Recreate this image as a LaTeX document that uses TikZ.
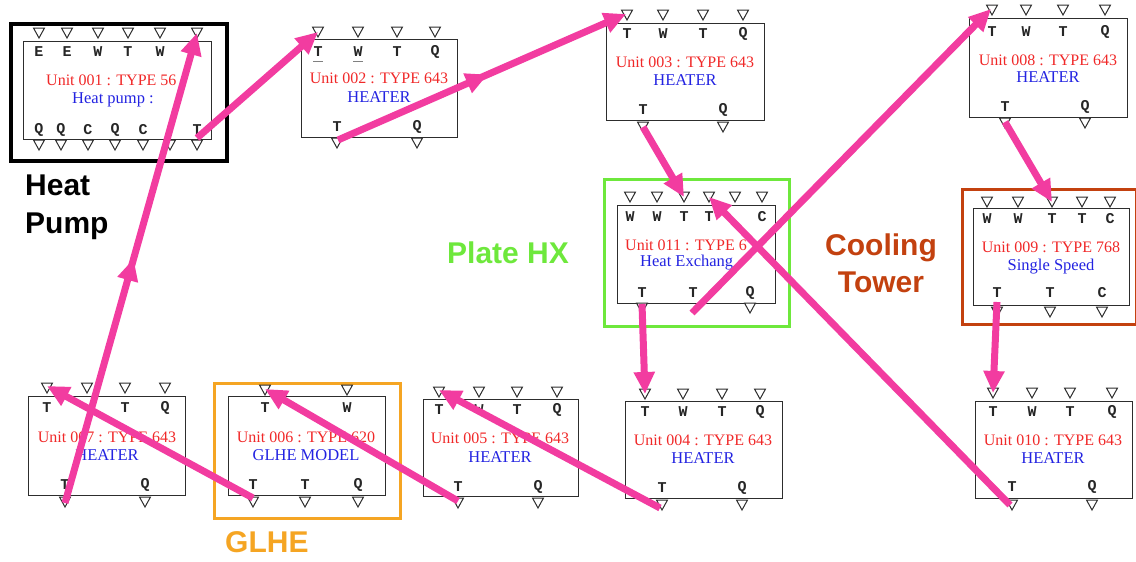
\documentclass[tikz,border=0pt]{standalone}
\usepackage{fontspec}
\setmainfont{Liberation Serif}
\newfontfamily\lsans{Liberation Sans}
\newfontfamily\lmono{Liberation Mono}
\usetikzlibrary{arrows.meta,decorations.markings}
\definecolor{hp}{RGB}{242,60,160}
\definecolor{ured}{RGB}{240,40,40}
\definecolor{ublue}{RGB}{35,35,225}
\definecolor{hxgreen}{RGB}{110,232,60}
\definecolor{glorange}{RGB}{245,165,35}
\definecolor{ctbrown}{RGB}{195,65,15}
\definecolor{boxgray}{RGB}{45,45,45}
\begin{document}
\begin{tikzpicture}[x=1pt,y=-1pt,
  unitbox/.style={draw=boxgray, line width=1.4pt, inner sep=0pt, anchor=north west},
  frame/.style={line width=3pt, inner sep=0pt, anchor=north west},
  port/.pic={\draw[draw=boxgray, line width=1pt, fill=white] (-5.5,-5) -- (5.5,-5) -- (0,5) -- cycle;},
  plab/.style={font=\lmono\bfseries\fontsize{15}{15}\selectfont, text=black!85, inner sep=0pt},
  rtxt/.style={font=\fontsize{16}{16}\selectfont, text=ured, inner sep=0pt},
  btxt/.style={font=\fontsize{16.5}{16.5}\selectfont, text=ublue, inner sep=0pt},
  grp/.style={font=\lsans\bfseries\fontsize{30}{30}\selectfont, inner sep=0pt},
  flow/.style={color=hp, line width=7pt, -{Triangle[length=22pt,width=20pt]}},
  midtip/.style={postaction={decorate}, decoration={markings, mark=at position 0.52 with {\arrow{Triangle[length=22pt,width=20pt]}}}}
]
\useasboundingbox (0,0) rectangle (1136,562);

% group frames
\node[frame, draw=black, line width=4pt, minimum width=216pt, minimum height=137pt] (f1) at (9,22) {};
\node[frame, draw=hxgreen, minimum width=185pt, minimum height=147pt] (f11) at (603,178) {};
\node[frame, draw=ctbrown, minimum width=174pt, minimum height=135pt] (f9) at (961,188) {};
\node[frame, draw=glorange, minimum width=186pt, minimum height=135pt] (f6) at (213,382) {};

% group labels
\node[grp, anchor=base west] (lhp1) at (25,195) {Heat};
\node[grp, anchor=base west] (lhp2) at (25,233) {Pump};
\node[grp, anchor=base west, text=hxgreen] (lhx) at (447,263) {Plate HX};
\node[grp, anchor=base, text=ctbrown] (lct1) at (881,255) {Cooling};
\node[grp, anchor=base, text=ctbrown] (lct2) at (881,292) {Tower};
\node[grp, anchor=base west, text=glorange] (lgl) at (225,552) {GLHE};

% ---------- Unit 001
\node[unitbox, minimum width=188pt, minimum height=98pt] (u1) at (23,41) {};
\foreach \x in {39,67,98,128,160,197} \pic at (\x,33) {port};
\foreach \x/\l in {39/E,67/E,98/W,128/T,160/W} \node[plab] at (\x,52) {\l};
\foreach \x/\l in {39/Q,61/Q,88/C,115/Q,143/C,197/T} \node[plab] at (\x,130) {\l};
\foreach \x in {39,61,88,115,143,170,197} \pic at (\x,145) {port};
\node[rtxt, anchor=west] (u1a) at (46,80) {Unit 001 : TYPE 56};
\node[btxt] (u1b) at (113,100) {Heat pump :};
\coordinate (u1-t6) at (197,33);
\coordinate (u1-bT) at (197,138);

% ---------- Unit 002
\node[unitbox, minimum width=156pt, minimum height=98pt] (u2) at (301,39) {};
\foreach \x in {318,358,397,435} \pic at (\x,32) {port};
\foreach \x/\l in {318/T,358/W,397/T,435/Q} \node[plab] at (\x,52) {\l};
\draw[gray, line width=1pt] (313,61) -- (323,61) (353,61) -- (363,61);
\foreach \x/\l in {337/T,417/Q} \node[plab] at (\x,127) {\l};
\foreach \x in {337,417} \pic at (\x,143) {port};
\node[rtxt] (u2a) at (379,78) {Unit 002 : TYPE 643};
\node[btxt] (u2b) at (379,97) {HEATER};
\coordinate (u2-t1) at (318,32);
\coordinate (u2-bT) at (338,140);

% ---------- Unit 003
\node[unitbox, minimum width=158pt, minimum height=97pt] (u3) at (606,23) {};
\foreach \x in {627,663,703,743} \pic at (\x,15) {port};
\foreach \x/\l in {627/T,663/W,703/T,743/Q} \node[plab] at (\x,34) {\l};
\foreach \x/\l in {643/T,723/Q} \node[plab] at (\x,110) {\l};
\foreach \x in {643,723} \pic at (\x,127) {port};
\node[rtxt] (u3a) at (685,62) {Unit 003 : TYPE 643};
\node[btxt] (u3b) at (685,80) {HEATER};
\coordinate (u3-t1) at (626,14);
\coordinate (u3-bT) at (643,127);

% ---------- Unit 008
\node[unitbox, minimum width=158pt, minimum height=99pt] (u8) at (969,18) {};
\foreach \x in {992,1026,1063,1105} \pic at (\x,10) {port};
\foreach \x/\l in {992/T,1026/W,1063/T,1105/Q} \node[plab] at (\x,32) {\l};
\foreach \x/\l in {1005/T,1085/Q} \node[plab] at (\x,107) {\l};
\foreach \x in {1005,1085} \pic at (\x,123) {port};
\node[rtxt] (u8a) at (1048,60) {Unit 008 : TYPE 643};
\node[btxt] (u8b) at (1048,77) {HEATER};
\coordinate (u8-t1) at (991,9);
\coordinate (u8-bT) at (1005,122);

% ---------- Unit 009
\node[unitbox, minimum width=156pt, minimum height=97pt] (u9) at (973,208) {};
\foreach \x in {987,1018,1052,1082,1110} \pic at (\x,202) {port};
\foreach \x/\l in {987/W,1018/W,1052/T,1082/T,1110/C} \node[plab] at (\x,219) {\l};
\foreach \x/\l in {997/T,1050/T,1102/C} \node[plab] at (\x,293) {\l};
\foreach \x in {997,1050,1102} \pic at (\x,312) {port};
\node[rtxt] (u9a) at (1051,247) {Unit 009 : TYPE 768};
\node[btxt] (u9b) at (1051,267) {Single Speed};
\coordinate (u9-t3) at (1052,202);
\coordinate (u9-bT) at (997,302);

% ---------- Unit 011
\node[unitbox, minimum width=158pt, minimum height=98pt] (u11) at (617,205) {};
\foreach \x in {630,657,684,709,735,762} \pic at (\x,197) {port};
\foreach \x/\l in {630/W,657/W,684/T,709/T,762/C} \node[plab] at (\x,217) {\l};
\foreach \x/\l in {642/T,693/T,750/Q} \node[plab] at (\x,293) {\l};
\foreach \x in {642,750} \pic at (\x,308) {port};
\node[rtxt, anchor=west] (u11a) at (625,245) {Unit 011 : TYPE 6};
\node[btxt, anchor=west] (u11b) at (640,263) {Heat Exchang};
\coordinate (u11-t3) at (684,197);
\coordinate (u11-t4) at (709,197);
\coordinate (u11-bT1) at (642,304);
\coordinate (u11-bT2) at (692,313);

% ---------- Unit 007
\node[unitbox, minimum width=157pt, minimum height=99pt] (u7) at (28,396) {};
\foreach \x in {47,87,125,165} \pic at (\x,388) {port};
\foreach \x/\l in {47/T,125/T,165/Q} \node[plab] at (\x,408) {\l};
\foreach \x/\l in {65/T,145/Q} \node[plab] at (\x,485) {\l};
\foreach \x in {65,145} \pic at (\x,502) {port};
\node[rtxt] (u7a) at (107,437) {Unit 007 : TYPE 643};
\node[btxt] (u7b) at (107,455) {HEATER};
\coordinate (u7-t1) at (47,386);
\coordinate (u7-bT) at (65,503);

% ---------- Unit 006
\node[unitbox, minimum width=157pt, minimum height=99pt] (u6) at (228,396) {};
\foreach \x in {265,347} \pic at (\x,390) {port};
\foreach \x/\l in {265/T,347/W} \node[plab] at (\x,408) {\l};
\foreach \x/\l in {253/T,305/T,358/Q} \node[plab] at (\x,485) {\l};
\foreach \x in {253,305,358} \pic at (\x,502) {port};
\node[rtxt] (u6a) at (306,437) {Unit 006 : TYPE 620};
\node[btxt] (u6b) at (306,455) {GLHE MODEL};
\coordinate (u6-t1) at (265,389);
\coordinate (u6-bT) at (253,498);

% ---------- Unit 005
\node[unitbox, minimum width=155pt, minimum height=97pt] (u5) at (423,399) {};
\foreach \x in {439,479,517,557} \pic at (\x,392) {port};
\foreach \x/\l in {439/T,479/W,517/T,557/Q} \node[plab] at (\x,410) {\l};
\foreach \x/\l in {458/T,538/Q} \node[plab] at (\x,487) {\l};
\foreach \x in {458,538} \pic at (\x,503) {port};
\node[rtxt] (u5a) at (500,438) {Unit 005 : TYPE 643};
\node[btxt] (u5b) at (500,457) {HEATER};
\coordinate (u5-t1) at (439,390);
\coordinate (u5-bT) at (458,501);

% ---------- Unit 004
\node[unitbox, minimum width=157pt, minimum height=97pt] (u4) at (625,401) {};
\foreach \x in {645,683,722,760} \pic at (\x,394) {port};
\foreach \x/\l in {645/T,683/W,722/T,760/Q} \node[plab] at (\x,412) {\l};
\foreach \x/\l in {662/T,742/Q} \node[plab] at (\x,488) {\l};
\foreach \x in {662,742} \pic at (\x,505) {port};
\node[rtxt] (u4a) at (703,440) {Unit 004 : TYPE 643};
\node[btxt] (u4b) at (703,458) {HEATER};
\coordinate (u4-t1) at (645,394);
\coordinate (u4-bT) at (660,508);

% ---------- Unit 010
\node[unitbox, minimum width=157pt, minimum height=97pt] (u10) at (975,401) {};
\foreach \x in {993,1032,1070,1112} \pic at (\x,393) {port};
\foreach \x/\l in {993/T,1032/W,1070/T,1112/Q} \node[plab] at (\x,412) {\l};
\foreach \x/\l in {1012/T,1092/Q} \node[plab] at (\x,487) {\l};
\foreach \x in {1012,1092} \pic at (\x,505) {port};
\node[rtxt] (u10a) at (1053,440) {Unit 010 : TYPE 643};
\node[btxt] (u10b) at (1053,458) {HEATER};
\coordinate (u10-t1) at (993,393);
\coordinate (u10-bT) at (1010,505);

% ---------- connectors
\draw[flow, midtip] (u7-bT) -- (u1-t6);
\draw[flow] (u1-bT) -- (u2-t1);
\draw[flow, midtip] (u2-bT) -- (u3-t1);
\draw[flow] (u3-bT) -- (u11-t3);
\draw[flow] (u11-bT1) -- (u4-t1);
\draw[flow] (u11-bT2) -- (u8-t1);
\draw[flow] (u8-bT) -- (u9-t3);
\draw[flow] (u9-bT) -- (u10-t1);
\draw[flow] (u10-bT) -- (u11-t4);
\draw[flow] (u4-bT) -- (u5-t1);
\draw[flow] (u5-bT) -- (u6-t1);
\draw[flow] (u6-bT) -- (u7-t1);
\end{tikzpicture}
\end{document}
